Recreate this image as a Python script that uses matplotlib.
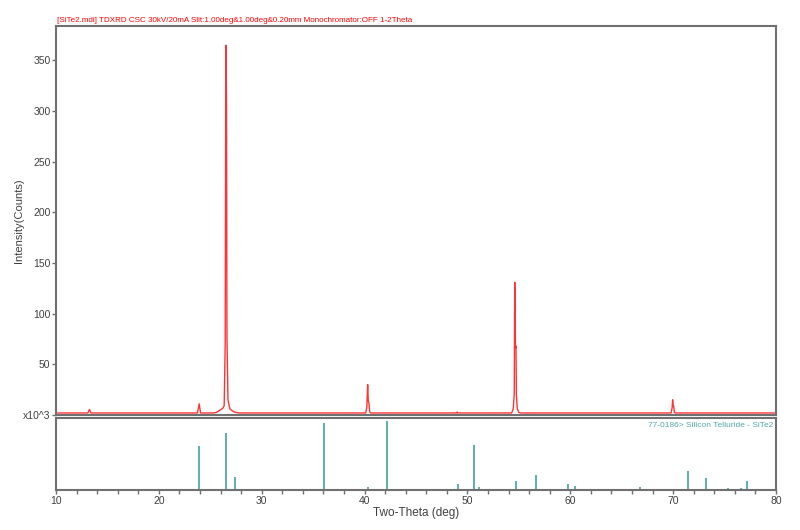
import numpy as np
import matplotlib
matplotlib.use("Agg")
import matplotlib.pyplot as plt

plt.rcParams["font.family"] = ["Liberation Sans", "DejaVu Sans"]

two_theta = [10.0, 13.1, 13.25, 13.4, 23.75, 23.92, 24.05,
             25.3, 25.6, 26.2, 26.35, 26.45, 26.5, 26.53, 26.58, 26.62, 26.72, 26.9, 27.3, 27.8,
             40.12, 40.22, 40.3, 40.36, 40.42, 40.5, 40.6,
             48.95, 49.0, 49.05,
             54.3, 54.45, 54.55, 54.6, 54.63, 54.67, 54.72, 54.76, 54.85, 55.0, 55.2,
             69.8, 69.9, 69.95, 70.0, 70.05, 70.12, 70.2, 80.0]
counts = [2.0, 2.0, 5.5, 2.0, 2.0, 11.0, 2.0,
          2.0, 2.5, 6.5, 9.0, 70.0, 303.0, 365.0, 303.0, 78.0, 15.0, 6.0, 3.0, 2.0,
          2.0, 8.0, 30.0, 14.0, 12.0, 3.0, 2.0,
          2.0, 3.0, 2.0,
          2.0, 6.0, 20.0, 131.0, 115.0, 66.0, 68.0, 20.0, 6.0, 2.5, 2.0,
          2.0, 7.0, 15.0, 9.5, 9.0, 2.5, 2.0, 2.0]

# reference card 77-0186 stick pattern (relative intensity)
ref_pos = [13.2, 23.9, 26.5, 27.4, 36.1, 40.35, 42.2, 44.4, 47.5, 49.1, 50.6, 51.1,
           54.7, 56.7, 59.8, 60.5, 65.4, 66.8, 68.4, 71.4, 73.2, 75.3, 76.6, 77.2, 78.7]
ref_int = [2, 64, 83, 19, 98, 5, 100, 1.5, 1, 8.5, 65, 4,
           13, 22, 8.5, 6.5, 1, 5, 2, 27, 18, 3, 3, 13, 1]

y_ticks = [0, 50, 100, 150, 200, 250, 300, 350]
y_labels = ["x10^3", "50", "100", "150", "200", "250", "300", "350"]

spine_col = "#707070"
text_col = "#404040"
teal = "#52a8a8"

fig = plt.figure(figsize=(8, 5.3), dpi=100)
ax = fig.add_axes([0.07, 0.217, 0.9, 0.734])
ax2 = fig.add_axes([0.07, 0.0755, 0.9, 0.1358])

ax.plot(two_theta, counts, color="red", lw=1.0, alpha=0.8)
ax.set_xlim(10, 80)
ax.set_ylim(0, 384)
ax.set_xticks([])
ax.set_yticks(y_ticks)
ax.set_yticklabels(y_labels)
ax.tick_params(axis="y", direction="out", length=3, width=1, colors=spine_col,
               labelcolor=text_col, labelsize=7.5, pad=1)
ax.set_ylabel("Intensity(Counts)", fontsize=8, color=text_col)
ax.yaxis.set_label_coords(-0.045, 0.5)
ax.text(0.002, 1.006, "[SiTe2.mdi] TDXRD CSC 30kV/20mA Slit:1.00deg&1.00deg&0.20mm Monochromator:OFF 1-2Theta",
        transform=ax.transAxes, color="red", fontsize=5.8, ha="left", va="bottom")

ax2.vlines(ref_pos, 0, ref_int, color=teal, lw=1.3)
ax2.set_xlim(10, 80)
ax2.set_ylim(0, 105)
ax2.set_yticks([])
ax2.set_xticks(np.arange(10, 81, 10))
ax2.set_xticks(np.arange(10, 81, 2), minor=True)
ax2.tick_params(axis="x", which="both", direction="out", length=3, width=1,
                colors=spine_col, labelcolor=text_col, labelsize=7.5, pad=1)
ax2.set_xlabel("Two-Theta (deg)", fontsize=8.5, color=text_col, labelpad=1)
ax2.text(0.996, 0.95, "77-0186> Silicon Telluride - SiTe2", transform=ax2.transAxes,
         color=teal, fontsize=6, ha="right", va="top")

for a in (ax, ax2):
    for s in a.spines.values():
        s.set_color(spine_col)
        s.set_linewidth(1.5)

fig.savefig("out.png", dpi=100)
